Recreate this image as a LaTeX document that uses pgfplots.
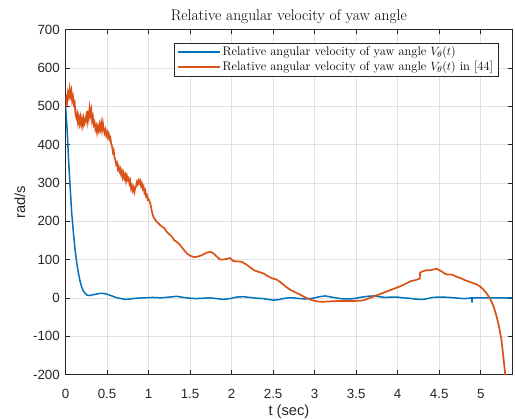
\documentclass[border=0pt]{standalone}
\usepackage{fontspec}
\usepackage{pgfplots}
\pgfplotsset{compat=1.18}
\newfontfamily\arialfont{Liberation Sans}
\definecolor{mblue}{rgb}{0,0.447,0.741}
\definecolor{morange}{rgb}{0.85,0.325,0.098}
\definecolor{axgray}{rgb}{0.15,0.15,0.15}

\begin{document}
\begin{tikzpicture}
\begin{axis}[
  scale only axis,
  width=446.8bp, height=345bp,
  xmin=0, xmax=5.38,
  ymin=-200, ymax=700,
  xtick={0,0.5,...,5},
  ytick={-200,-100,...,700},
  tick align=inside,
  major tick length=4.5bp,
  axis line style={draw=axgray, line width=0.6bp},
  every tick/.style={draw=axgray, line width=0.6bp},
  grid=major,
  major grid style={draw=black!12, line width=0.5bp},
  /pgf/number format/assume math mode=true,
  tick label style={font=\arialfont\fontsize{13.33bp}{16bp}\selectfont, text=axgray},
  xticklabel style={anchor=base, inner sep=0pt, yshift=-23.5bp},
  yticklabel style={anchor=east, inner sep=0pt, xshift=-5.5bp},
  xlabel={t (sec)},
  ylabel={rad/s},
  label style={font=\arialfont\fontsize{14.67bp}{17bp}\selectfont, text=axgray},
  xlabel style={at={([yshift=-40.5bp]rel axis cs:0.5,0)}, anchor=base, inner sep=0pt},
  ylabel style={at={([xshift=-45.5bp]rel axis cs:0,0.5)}, anchor=center, inner sep=0pt},
  title={Relative angular velocity of yaw angle},
  title style={font=\fontsize{15.5bp}{18bp}\selectfont, at={([yshift=3.5bp]rel axis cs:0.5,1)}, anchor=base, inner sep=0pt},
  legend style={at={(rel axis cs:0.9687,0.9617)}, anchor=north east,
    draw=axgray, fill=white,
    font=\fontsize{12.5bp}{14bp}\selectfont,
    inner xsep=3bp, inner ysep=2bp, row sep=0bp},
  legend cell align=left,
  legend image code/.code={\draw[#1] (0bp,0bp) -- (42bp,0bp);},
]
\addplot[draw=mblue, line width=1.5bp] coordinates {
(0,500)(0.01,470)(0.02,438)(0.035,369)(0.055,291)(0.075,221)(0.095,170)
(0.115,126)(0.135,92)(0.155,65)(0.175,44)(0.195,28)(0.215,18)(0.235,12)
(0.26,7)(0.29,6)(0.33,8)(0.38,10)(0.43,12)(0.47,11)(0.52,8)(0.57,4)
(0.62,0)(0.67,-2)(0.72,-4)(0.78,-3)(0.85,-1)(0.95,0)(1.05,1)(1.15,0)
(1.25,2)(1.34,4)(1.42,1)(1.50,-1)(1.58,-2)(1.66,-1)(1.74,0)(1.82,-2)
(1.90,-4)(1.98,-2)(2.06,2)(2.14,3)(2.22,1)(2.30,-1)(2.38,-2)(2.44,-4)
(2.50,-6)(2.56,-5)(2.62,-2)(2.68,0)(2.74,0)(2.82,-2)(2.90,-3)(2.98,-1)
(3.06,3)(3.13,5)(3.20,2)(3.28,-1)(3.35,-3)(3.43,-3)(3.50,-1)(3.57,2)
(3.64,4)(3.71,5)(3.78,3)(3.85,1)(3.92,2)(3.99,2)(4.06,0)(4.13,-1)
(4.20,-3)(4.27,-4)(4.31,-4)(4.36,-2)(4.42,1)(4.49,2)(4.56,2)(4.62,1)
(4.68,0)(4.74,-1)(4.80,-2)(4.86,-1)(4.89,0)(4.895,-12)(4.90,0)(5.38,0)
};
\addlegendentry{Relative angular velocity of yaw angle $V_\theta(t)$}
\addplot[draw=morange, line width=1.7bp] coordinates {
(0,500)(0.01,520)(0.02,510)(0.03,535)(0.04,525)(0.05,545)(0.06,528)
(0.07,540)(0.08,515)(0.09,525)(0.10,505)(0.11,510)(0.12,480)(0.13,470)
(0.14,480)(0.15,458)(0.16,472)(0.17,455)(0.18,470)(0.19,452)(0.20,466)
(0.21,450)(0.22,468)(0.23,455)(0.24,462)(0.25,475)(0.26,460)(0.27,488)
(0.28,470)(0.29,495)(0.30,478)(0.31,490)(0.32,462)(0.33,472)(0.34,452)
(0.35,458)(0.36,440)(0.37,448)(0.38,432)(0.39,446)(0.40,436)(0.41,452)
(0.42,440)(0.43,455)(0.44,438)(0.45,456)(0.46,440)(0.47,430)(0.48,438)
(0.49,424)(0.50,432)(0.51,420)(0.52,428)(0.53,414)(0.54,418)(0.55,402)
(0.56,396)(0.57,380)(0.58,385)(0.59,366)(0.60,360)(0.61,348)(0.62,352)
(0.63,336)(0.64,342)(0.65,330)(0.66,336)(0.67,322)(0.68,330)(0.69,315)
(0.70,325)(0.71,312)(0.72,320)(0.73,305)(0.74,318)(0.75,308)(0.76,312)
(0.77,298)(0.78,305)(0.79,285)(0.80,292)(0.81,280)(0.82,288)(0.83,276)
(0.84,286)(0.85,292)(0.86,302)(0.87,296)(0.88,306)(0.89,300)(0.90,305)
(0.91,292)(0.92,298)(0.93,285)(0.94,290)(0.95,275)(0.96,280)(0.97,265)
(0.98,268)(0.99,256)(1.00,258)(1.02,248)(1.04,225)(1.06,210)(1.08,204)
(1.10,198)(1.13,192)(1.16,186)(1.19,182)(1.22,172)(1.25,166)(1.28,160)
(1.31,150)(1.34,146)(1.37,140)(1.40,132)(1.43,124)(1.46,116)(1.50,110)
(1.55,106)(1.60,108)(1.65,112)(1.70,118)(1.75,120)(1.78,116)(1.82,108)
(1.86,100)(1.90,100)(1.95,102)(1.98,104)(2.02,96)(2.07,95)(2.12,94)
(2.17,88)(2.22,80)(2.27,72)(2.32,68)(2.38,64)(2.44,56)(2.50,50)(2.54,48)
(2.58,42)(2.62,35)(2.66,28)(2.70,22)(2.76,15)(2.82,9)(2.88,2)(2.94,-4)
(3.00,-8)(3.06,-10)(3.12,-10)(3.20,-9)(3.30,-8)(3.40,-8)(3.50,-8)
(3.58,-7)(3.63,-3)(3.67,0)(3.73,5)(3.79,10)(3.85,15)(3.91,20)(3.97,25)
(4.03,30)(4.09,36)(4.15,43)(4.21,46)(4.265,50)(4.27,66)(4.31,70)(4.35,72)
(4.40,72)(4.43,74)(4.47,76)(4.50,72)(4.53,69)(4.56,64)(4.59,61)(4.65,61)
(4.70,56)(4.75,52)(4.80,47)(4.85,43)(4.90,39)(4.95,35)(4.99,30)(5.03,22)
(5.07,12)(5.10,2)(5.13,-10)(5.16,-26)(5.19,-48)(5.22,-75)(5.25,-110)
(5.27,-150)(5.285,-180)(5.295,-200)(5.30,-215)
};
\addlegendentry{Relative angular velocity of yaw angle $V_\theta(t)$ in [44]}
\end{axis}
\pgfresetboundingbox
\path[use as bounding box] ([shift={(-65.5bp,-44.5bp)}]current axis.south west) rectangle ([shift={(2.7bp,29.5bp)}]current axis.north east);
\end{tikzpicture}
\end{document}
